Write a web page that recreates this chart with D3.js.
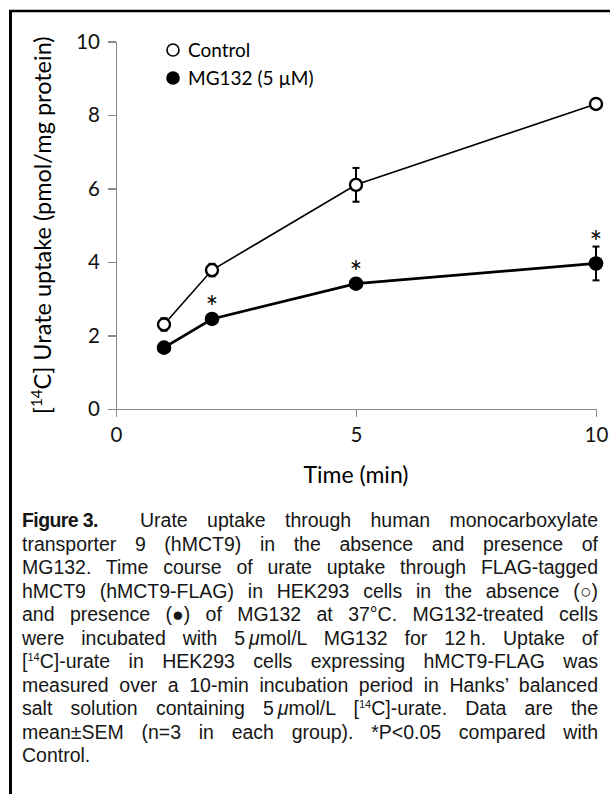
<!DOCTYPE html>
<html lang="en">
<head>
<meta charset="utf-8">
<title>urate uptake time course</title>
<script src="https://d3js.org/d3.v7.min.js"></script>
<style>
	body { margin: 0; background: #fff; }
	#wrap { position: relative; width: 610px; height: 794px; overflow: hidden; }
	#chart { position: absolute; left: 0; top: 0; }
	.Axis path, .Axis line { fill: none; stroke: #8a8a8a; stroke-width: 1.2; shape-rendering: crispEdges; }
	.Axis text { font-family: Lato, "Open Sans", sans-serif; font-size: 20.5px; fill: #111; }
	#caption {
		position: absolute; left: 22px; top: 509px; width: 576px;
		font-family: "Liberation Sans", Arial, sans-serif;
		font-size: 19.5px; line-height: 23.5px; color: #161616;
	}
	#caption div { text-align: justify; text-align-last: justify; white-space: nowrap; }
	#caption div.last { text-align-last: left; }
	#caption b { display: inline-block; width: 118px; text-align: left; text-align-last: left; font-weight: bold; letter-spacing: -0.6px; }
	#caption sup { font-size: 11px; vertical-align: 7px; line-height: 0; }
	#caption .sym { display: inline-block; }
</style>
</head>
<body>
<div id="wrap">
	<svg id="chart"></svg>
	<div id="caption"></div>
</div>
<script>
	// data
	var times = [1, 2, 5, 10]
	var controlMean = [2.3, 3.78, 6.1, 8.3]
	var controlSem = [0.17, 0.17, 0.46, 0.08]
	var mgMean = [1.67, 2.45, 3.41, 3.96]
	var mgSem = [0.06, 0.08, 0.08, 0.46]
	var mgSignif = [false, true, true, true]

	var xTicks = [0, 5, 10]
	var yTicks = [0, 2, 4, 6, 8, 10]

	var legendLabels = ["Control", "MG132 (5 \u00b5M)"]

	var captionLines = [
		"<b>Figure 3.</b>Urate uptake through human monocarboxylate",
		"transporter 9 (hMCT9) in the absence and presence of",
		"MG132. Time course of urate uptake through FLAG-tagged",
		"hMCT9 (hMCT9-FLAG) in HEK293 cells in the absence <span class='sym'>(\u25cb)</span>",
		"and presence <span class='sym'>(\u25cf)</span> of MG132 at 37\u00b0C. MG132-treated cells",
		"were incubated with 5\u2009<i>\u03bc</i>mol/L MG132 for 12\u2009h. Uptake of",
		"[<sup>14</sup>C]-urate in HEK293 cells expressing hMCT9-FLAG was",
		"measured over a 10-min incubation period in Hanks\u2019 balanced",
		"salt solution containing 5\u2009<i>\u03bc</i>mol/L [<sup>14</sup>C]-urate. Data are the",
		"mean\u00b1SEM (n=3 in each group). *P&lt;0.05 compared with",
		"Control."
	]

	var wholeW = 610, wholeH = 794
	var chartFont = "Lato, 'Open Sans', sans-serif"

	var xScale = d3.scaleLinear().domain([0, 10]).range([116, 596])
	var yScale = d3.scaleLinear().domain([0, 10]).range([409, 41.5])

	var svg = d3.select("#chart").attr("width", wholeW).attr("height", wholeH)

	// frame
	svg.append("line").attr("x1", 9).attr("x2", wholeW).attr("y1", 11).attr("y2", 11)
		.attr("stroke", "#000").attr("stroke-width", 2.5)
	svg.append("line").attr("x1", 10.5).attr("x2", 10.5).attr("y1", 10).attr("y2", wholeH)
		.attr("stroke", "#000").attr("stroke-width", 3)

	// axes
	var yAxis = d3.axisLeft(yScale).tickValues(yTicks).tickSize(8).tickSizeOuter(0).tickPadding(8)
	var xAxis = d3.axisBottom(xScale).tickValues(xTicks).tickSize(8).tickSizeOuter(0).tickPadding(10)

	svg.append("g").attr("class", "y Axis")
		.attr("transform", "translate(" + xScale(0) + ",0)")
		.call(yAxis)
	svg.append("g").attr("class", "x Axis")
		.attr("transform", "translate(0," + yScale(0) + ")")
		.call(xAxis)

	// axis titles
	svg.append("text")
		.attr("x", (xScale(0) + xScale(10)) / 2).attr("y", 483)
		.attr("text-anchor", "middle")
		.style("font-family", chartFont).style("font-size", "23px")
		.text("Time (min)")

	var yTitle = svg.append("text")
		.attr("transform", "translate(51," + yScale(5) + ") rotate(-90)")
		.attr("text-anchor", "middle")
		.style("font-family", chartFont).style("font-size", "23.5px")
	yTitle.append("tspan").text("[")
	yTitle.append("tspan").attr("dy", -9).style("font-size", "15px").text("14")
	yTitle.append("tspan").attr("dy", 9).text("C] Urate uptake (pmol/mg protein)")

	// build rows
	var control = times.map((t, i) => ({t: t, m: controlMean[i], e: controlSem[i]}))
	var mg = times.map((t, i) => ({t: t, m: mgMean[i], e: mgSem[i], s: mgSignif[i]}))

	var line = d3.line().x(d => xScale(d.t)).y(d => yScale(d.m))

	svg.append("path").attr("d", line(control)).attr("fill", "none")
		.attr("stroke", "#000").attr("stroke-width", 1.6)
	svg.append("path").attr("d", line(mg)).attr("fill", "none")
		.attr("stroke", "#000").attr("stroke-width", 2.8)

	// error bars
	function errBars(data) {
		var g = svg.append("g").attr("stroke", "#000").attr("stroke-width", 2)
		g.selectAll(".v").data(data).join("line")
			.attr("x1", d => xScale(d.t)).attr("x2", d => xScale(d.t))
			.attr("y1", d => yScale(d.m - d.e)).attr("y2", d => yScale(d.m + d.e))
		g.selectAll(".top").data(data).join("line")
			.attr("x1", d => xScale(d.t) - 3.5).attr("x2", d => xScale(d.t) + 3.5)
			.attr("y1", d => yScale(d.m + d.e)).attr("y2", d => yScale(d.m + d.e))
		g.selectAll(".bot").data(data).join("line")
			.attr("x1", d => xScale(d.t) - 3.5).attr("x2", d => xScale(d.t) + 3.5)
			.attr("y1", d => yScale(d.m - d.e)).attr("y2", d => yScale(d.m - d.e))
	}
	errBars(control)
	errBars(mg)

	// markers
	svg.append("g").selectAll("circle").data(control).join("circle")
		.attr("cx", d => xScale(d.t)).attr("cy", d => yScale(d.m)).attr("r", 6)
		.attr("fill", "#fff").attr("stroke", "#000").attr("stroke-width", 2.4)
	svg.append("g").selectAll("circle").data(mg).join("circle")
		.attr("cx", d => xScale(d.t)).attr("cy", d => yScale(d.m)).attr("r", 7.3)
		.attr("fill", "#000")

	// significance asterisks
	svg.append("g").selectAll("text").data(mg.filter(d => d.s)).join("text")
		.attr("x", d => xScale(d.t))
		.attr("y", d => Math.min(yScale(d.m) - 7, yScale(d.m + d.e)) + 6)
		.attr("text-anchor", "middle")
		.style("font-family", chartFont).style("font-size", "30px")
		.text("*")

	// legend
	var legend = svg.append("g").attr("transform", "translate(173,50)")
	legend.append("circle").attr("cx", 0).attr("cy", 0).attr("r", 6)
		.attr("fill", "#fff").attr("stroke", "#000").attr("stroke-width", 1.6)
	legend.append("circle").attr("cx", 0).attr("cy", 28).attr("r", 6.8).attr("fill", "#000")
	legend.selectAll("text").data(legendLabels).join("text")
		.attr("x", 15).attr("y", (d, i) => i * 28 + 6.5)
		.style("font-family", chartFont).style("font-size", "19px")
		.text(d => d)

	// caption
	d3.select("#caption").selectAll("div").data(captionLines).join("div")
		.attr("class", (d, i) => i === captionLines.length - 1 ? "last" : null)
		.html(d => d)
</script>
</body>
</html>
